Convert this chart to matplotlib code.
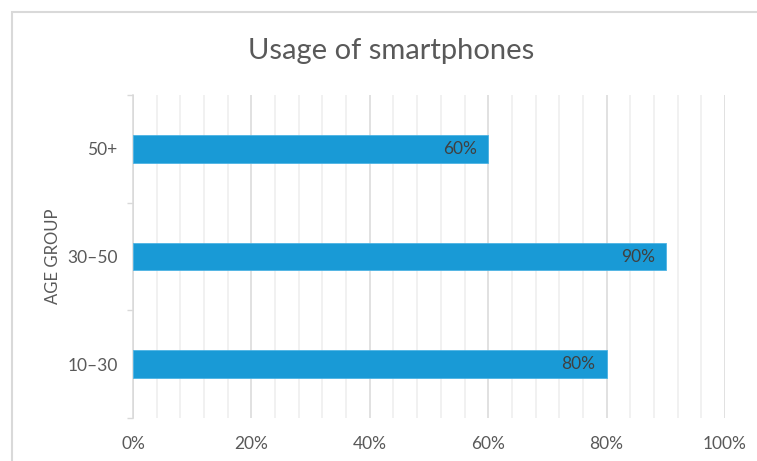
import matplotlib.pyplot as plt
from matplotlib.patches import Rectangle
from matplotlib.ticker import MultipleLocator, FixedLocator, NullFormatter
import numpy as np

plt.rcParams['font.family'] = ['Lato', 'DejaVu Sans']

# data
age_groups = ['10–30', '30–50', '50+']
usage = [80, 90, 60]
x_ticks = [0, 20, 40, 60, 80, 100]

bar_color = '#199AD6'
text_color = '#595959'
grid_major = '#D9D9D9'
grid_minor = '#EDEDED'

fig = plt.figure(figsize=(7.57, 4.61), dpi=100)
ax = fig.add_axes([133/757, 43/461, (725-133)/757, (418-95)/461])

pos = np.arange(len(age_groups))
bars = ax.barh(pos, usage, height=0.26, color=bar_color,
               edgecolor='#4DB3E3', linewidth=0.6, zorder=3)

for b, v in zip(bars, usage):
    ax.annotate(f'{v}%', xy=(b.get_width(), b.get_y() + b.get_height()/2),
                xytext=(-8, 0), textcoords='offset points',
                ha='right', va='center', fontsize=12.5, color='#404040', zorder=4)

ax.set_xlim(0, 100)
ax.set_ylim(-0.5, len(age_groups) - 0.5)

# x axis: major every 20, minor every 4
ax.set_xticks(x_ticks)
ax.set_xticklabels([f'{t}%' for t in x_ticks])
ax.xaxis.set_minor_locator(MultipleLocator(4))
ax.tick_params(axis='x', which='both', length=0, pad=13, labelsize=12.5, labelcolor=text_color)
ax.grid(axis='x', which='major', color=grid_major, linewidth=1.1, zorder=0)
ax.grid(axis='x', which='minor', color=grid_minor, linewidth=1.1, zorder=0)

# y axis: tick marks at band edges, labels at centres
ax.yaxis.set_major_locator(FixedLocator(np.arange(-0.5, len(age_groups), 1.0)))
ax.yaxis.set_major_formatter(NullFormatter())
ax.yaxis.set_minor_locator(FixedLocator(pos))
ax.set_yticklabels(age_groups, minor=True)
ax.tick_params(axis='y', which='major', length=4.5, width=1, color=grid_major, direction='out')
ax.tick_params(axis='y', which='minor', length=0, pad=11, labelsize=12.5, labelcolor=text_color)
ax.set_ylabel('AGE GROUP', fontsize=12, color=text_color, labelpad=4.5)

for s in ['top', 'right', 'bottom']:
    ax.spines[s].set_visible(False)
ax.spines['left'].set_color(grid_major)
ax.spines['left'].set_linewidth(1.1)

fig.text(391.5/757, (461-59)/461, 'Usage of smartphones', ha='center', va='baseline',
         fontsize=21, color=text_color)

# outer chart border (cut at right and bottom like the reference)
fig.add_artist(Rectangle((12/757, -0.1), 2, (461-12)/461 + 0.1, transform=fig.transFigure,
                         fill=False, edgecolor='#D9D9D9', linewidth=1.5))

fig.savefig('out.png', dpi=100)
